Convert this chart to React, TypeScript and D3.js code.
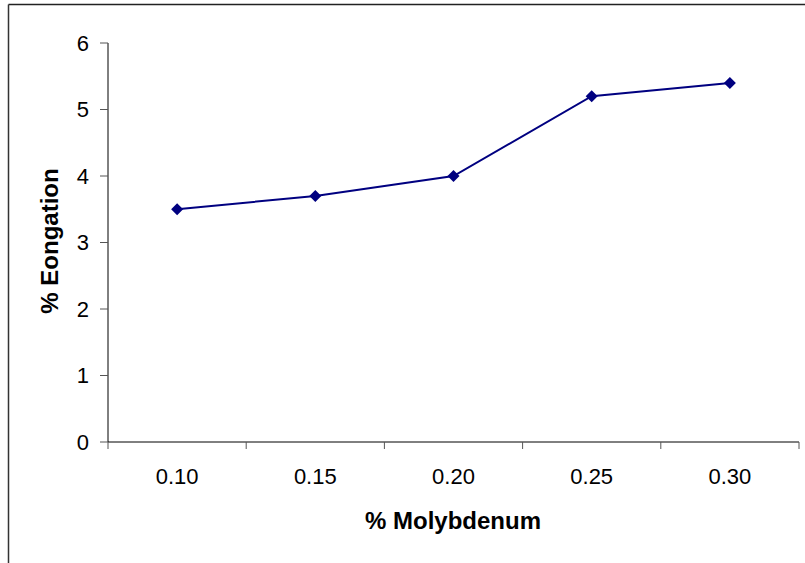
import React from "react";
import * as d3 from "d3";

const categories = ["0.10", "0.15", "0.20", "0.25", "0.30"];
const elongation = [3.5, 3.7, 4.0, 5.2, 5.4];
const yTicks = [0, 1, 2, 3, 4, 5, 6];

const W = 805;
const H = 563;
const left = 108;
const right = 799;
const top = 43;
const bottom = 442;

export default function App() {
  const x = d3.scaleBand<string>().domain(categories).range([left, right]).padding(0);
  const y = d3.scaleLinear().domain([0, 6]).range([bottom, top]);
  const cx = (c: string) => (x(c) as number) + x.bandwidth() / 2;
  const line = d3
    .line<number>()
    .x((_, i) => cx(categories[i]))
    .y((d) => y(d));
  const font = "'Liberation Sans', Arial, sans-serif";
  const boundaries = [...categories.map((c) => x(c) as number), right];
  return (
    <svg
      width={W}
      height={H}
      style={{ position: "absolute", left: 0, top: 0, background: "#fff" }}
      fontFamily={font}
    >
      <rect x={0} y={0} width={W} height={H} fill="#fff" />
      <line x1={8.5} y1={4.5} x2={W + 10} y2={4.5} stroke="#222" strokeWidth={1.5} />
      <line x1={8.5} y1={4.5} x2={8.5} y2={H + 10} stroke="#333" strokeWidth={1.5} />
      {/* y axis */}
      <line x1={left} y1={top} x2={left} y2={bottom} stroke="#000" strokeWidth={1} />
      {yTicks.map((t) => (
        <g key={t}>
          <line x1={left - 8} x2={left} y1={y(t)} y2={y(t)} stroke="#555" strokeWidth={1} />
          <text x={89} y={y(t)} dy="0.36em" textAnchor="end" fontSize={22} fill="#000">
            {t}
          </text>
        </g>
      ))}
      {/* x axis */}
      <line x1={left} y1={bottom} x2={right} y2={bottom} stroke="#000" strokeWidth={1} />
      {boundaries.map((b, i) => (
        <line key={i} x1={b} x2={b} y1={bottom} y2={bottom + 7} stroke="#555" strokeWidth={1} />
      ))}
      {categories.map((c) => (
        <text key={c} x={cx(c)} y={484} textAnchor="middle" fontSize={22} fill="#000">
          {c}
        </text>
      ))}
      <path d={line(elongation) || ""} fill="none" stroke="#000080" strokeWidth={2} />
      {elongation.map((v, i) => {
        const px = cx(categories[i]);
        const py = y(v);
        const s = 6;
        return (
          <path
            key={i}
            d={`M${px},${py - s}L${px + s},${py}L${px},${py + s}L${px - s},${py}Z`}
            fill="#000080"
          />
        );
      })}
      <text x={453} y={529} textAnchor="middle" fontSize={24} fontWeight="bold" fill="#000">
        % Molybdenum
      </text>
      <text
        transform={`translate(58,241) rotate(-90)`}
        textAnchor="middle"
        fontSize={24}
        fontWeight="bold"
        fill="#000"
      >
        % Eongation
      </text>
    </svg>
  );
}
